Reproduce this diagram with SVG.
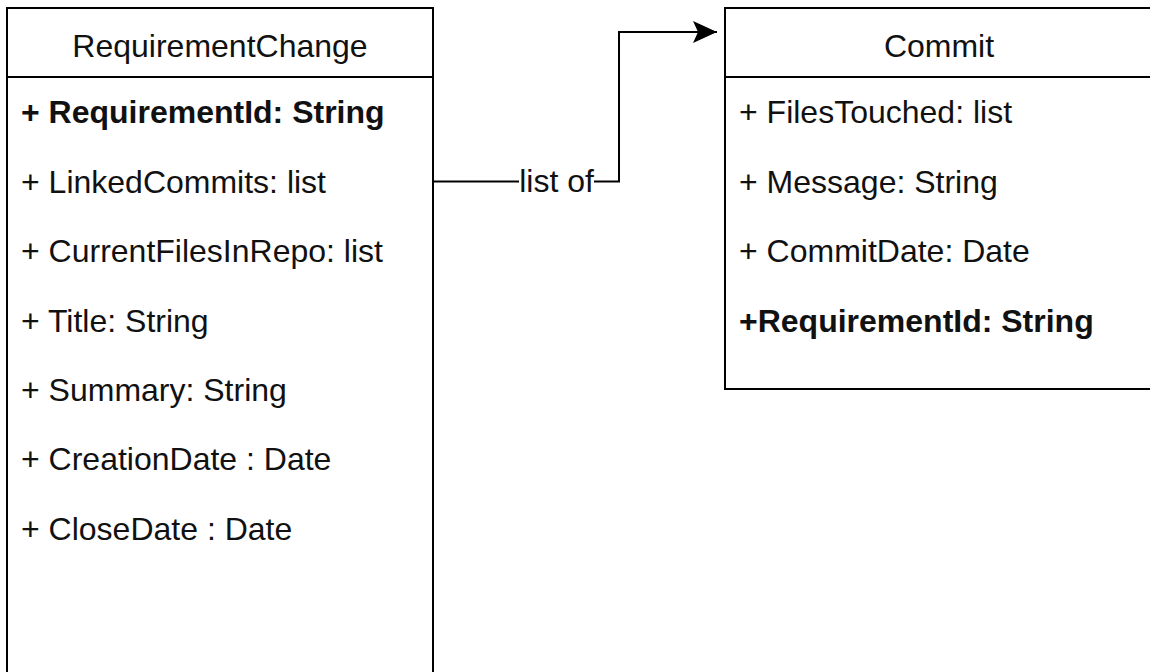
<svg xmlns="http://www.w3.org/2000/svg" width="1150" height="672" viewBox="0 0 1150 672">
  <style>
    .box { fill: #ffffff; stroke: #000000; stroke-width: 2; }
    .div { stroke: #000000; stroke-width: 2; }
    text { font-family: "Liberation Sans", Arial, Helvetica, sans-serif; font-size: 32px; fill: #111111; }
    .title { text-anchor: middle; }
    .bold { font-weight: bold; }
    .edge { fill: none; stroke: #000000; stroke-width: 2; }
  </style>
  <defs>
    <marker id="arrow" markerUnits="userSpaceOnUse" markerWidth="26" markerHeight="26" viewBox="0 0 26 26" refX="24" refY="13" orient="auto">
      <path d="M0,2 L24,13 L0,24 L5,13 Z" fill="#000000"/>
    </marker>
  </defs>
  <rect width="1150" height="672" fill="#ffffff"/>

  <g id="requirement-change">
    <rect class="box" x="7" y="8" width="426" height="680"/>
    <line class="div" x1="7" y1="77" x2="433" y2="77"/>
    <text class="title" x="220" y="57">RequirementChange</text>
    <text class="bold" x="21" y="123">+ RequirementId: String</text>
    <text x="21" y="192.5">+ LinkedCommits: list</text>
    <text x="21" y="262">+ CurrentFilesInRepo: list</text>
    <text x="21" y="331.5">+ Title: String</text>
    <text x="21" y="401">+ Summary: String</text>
    <text x="21" y="470">+ CreationDate : Date</text>
    <text x="21" y="539.5">+ CloseDate : Date</text>
  </g>

  <g id="commit">
    <rect class="box" x="725" y="8" width="430" height="381"/>
    <line class="div" x1="725" y1="77" x2="1155" y2="77"/>
    <text class="title" x="939" y="57">Commit</text>
    <text x="739" y="123">+ FilesTouched: list</text>
    <text x="739" y="192.5">+ Message: String</text>
    <text x="739" y="262">+ CommitDate: Date</text>
    <text class="bold" x="739" y="331.5">+RequirementId: String</text>
  </g>

  <g id="connectors">
    <path class="edge" d="M433,181.5 H619 V32 H717" marker-end="url(#arrow)"/>
    <rect x="519" y="166" width="75" height="32" fill="#ffffff"/>
    <text x="556.5" y="192" text-anchor="middle">list of</text>
  </g>
</svg>
